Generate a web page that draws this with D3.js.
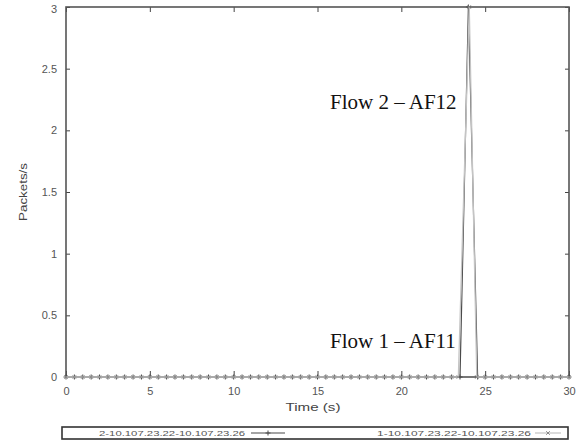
<!DOCTYPE html>
<html>
<head>
<meta charset="utf-8">
<script src="https://cdn.jsdelivr.net/npm/d3@7"></script>
<style>
  body { margin: 0; background: #fff; }
  svg { display: block; }
</style>
</head>
<body>
<div id="chart"></div>
<script>
// flow 2 (dark, + markers) - sampled every 0.5 s
const timesFlow2 = [0,0.5,1,1.5,2,2.5,3,3.5,4,4.5,5,5.5,6,6.5,7,7.5,8,8.5,9,9.5,10,10.5,11,11.5,12,12.5,13,13.5,14,14.5,15,15.5,16,16.5,17,17.5,18,18.5,19,19.5,20,20.5,21,21.5,22,22.5,23,23.5,24,24.55,25,25.5,26,26.5,27,27.5,28,28.5,29,29.5,30]
const valuesFlow2 = [0,0,0,0,0,0,0,0,0,0,0,0,0,0,0,0,0,0,0,0,0,0,0,0,0,0,0,0,0,0,0,0,0,0,0,0,0,0,0,0,0,0,0,0,0,0,0,0,3,0,0,0,0,0,0,0,0,0,0,0,0]

// flow 1 (light grey, x markers)
const timesFlow1 = [0,0.5,1,1.5,2,2.5,3,3.5,4,4.5,5,5.5,6,6.5,7,7.5,8,8.5,9,9.5,10,10.5,11,11.5,12,12.5,13,13.5,14,14.5,15,15.5,16,16.5,17,17.5,18,18.5,19,19.5,20,20.5,21,21.5,22,22.5,23,23.4,24.05,24.5,25,25.5,26,26.5,27,27.5,28,28.5,29,29.5,30]
const valuesFlow1 = [0,0,0,0,0,0,0,0,0,0,0,0,0,0,0,0,0,0,0,0,0,0,0,0,0,0,0,0,0,0,0,0,0,0,0,0,0,0,0,0,0,0,0,0,0,0,0,0,3,0,0,0,0,0,0,0,0,0,0,0,0]

const xTicks = [0, 5, 10, 15, 20, 25, 30]
const yTicks = [0, 0.5, 1, 1.5, 2, 2.5, 3]
const legendLabels = ['2-10.107.23.22-10.107.23.26', '1-10.107.23.22-10.107.23.26']

const width = 583
const height = 442
const margin = { top: 7, right: 14, bottom: 65, left: 66 }
const innerWidth = width - margin.left - margin.right
const innerHeight = height - margin.top - margin.bottom

const darkColor = '#4a4a4a'
const lightColor = '#c4c4c4'

const svg = d3.select('#chart')
    .append('svg')
        .attr('width', width)
        .attr('height', height)

const g = svg.append('g')
    .attr('transform', `translate(${margin.left}, ${margin.top})`)

const xScale = d3.scaleLinear().domain([0, 30]).range([0, innerWidth])
const yScale = d3.scaleLinear().domain([0, 3]).range([innerHeight, 0])

// axes with inward ticks, mirrored on top and right like gnuplot
const axisFont = 'Liberation Sans, Arial, sans-serif'

const styleAxis = sel => {
    sel.select('.domain').remove()
    sel.selectAll('.tick line').attr('stroke', '#444').attr('stroke-width', 1)
    sel.selectAll('.tick text')
        .attr('fill', '#555')
        .style('font-family', axisFont)
        .style('font-size', '11px')
}

const dropLabels = sel => sel.selectAll('.tick text').remove()

g.append('g')
    .attr('transform', `translate(0, ${innerHeight})`)
    .call(d3.axisBottom(xScale).tickValues(xTicks).tickSize(-6).tickPadding(10).tickFormat(d3.format('d')))
    .call(styleAxis)

g.append('g')
    .call(d3.axisTop(xScale).tickValues(xTicks).tickSize(-5))
    .call(styleAxis)
    .call(dropLabels)

const yAxisG = g.append('g')
    .call(d3.axisLeft(yScale).tickValues(yTicks).tickSize(-4).tickPadding(9).tickFormat(d => d))
    .call(styleAxis)

// keep the top label "3" inside the window
yAxisG.selectAll('.tick text').filter(d => d === 3).attr('dy', '0.5em')

g.append('g')
    .attr('transform', `translate(${innerWidth}, 0)`)
    .call(d3.axisRight(yScale).tickValues(yTicks).tickSize(-4))
    .call(styleAxis)
    .call(dropLabels)

// plot border
g.append('rect')
    .attr('width', innerWidth)
    .attr('height', innerHeight)
    .attr('fill', 'none')
    .attr('stroke', '#555')
    .attr('stroke-width', 1.6)

const flow2 = timesFlow2.map((t, i) => ({ t: t, v: valuesFlow2[i] }))
const flow1 = timesFlow1.map((t, i) => ({ t: t, v: valuesFlow1[i] }))

const line = d3.line()
    .x(d => xScale(d.t))
    .y(d => yScale(d.v))

const plusPath = s => `M${-s},0H${s}M0,${-s}V${s}`
const crossPath = s => `M${-s},${-s}L${s},${s}M${-s},${s}L${s},${-s}`

// flow 2 first, flow 1 drawn over it
g.append('path')
    .datum(flow2)
    .attr('d', line)
    .attr('fill', 'none')
    .attr('stroke', darkColor)
    .attr('stroke-width', 1.2)

g.selectAll('.pt2')
    .data(flow2)
    .enter()
    .append('path')
        .attr('class', 'pt2')
        .attr('transform', d => `translate(${xScale(d.t)}, ${yScale(d.v)})`)
        .attr('d', plusPath(2.5))
        .attr('stroke', darkColor)
        .attr('stroke-width', 1)

g.append('path')
    .datum(flow1)
    .attr('d', line)
    .attr('fill', 'none')
    .attr('stroke', lightColor)
    .attr('stroke-width', 1.3)

g.selectAll('.pt1')
    .data(flow1)
    .enter()
    .append('path')
        .attr('class', 'pt1')
        .attr('transform', d => `translate(${xScale(d.t)}, ${yScale(d.v)})`)
        .attr('d', crossPath(1.8))
        .attr('stroke', '#888')
        .attr('stroke-width', 0.9)

// the original's small texts are stretched wide, so scale them to the measured width
const stretchText = (parent, str, cx, cy, targetWidth, fontSize, rotate) => {
    const holder = parent.append('g')
    const t = holder.append('text')
        .attr('text-anchor', 'middle')
        .attr('dy', '0.35em')
        .style('font-family', axisFont)
        .style('font-size', fontSize + 'px')
        .attr('fill', '#444')
        .text(str)
    const natural = t.node().getComputedTextLength()
    const sx = targetWidth / natural
    holder.attr('transform', `translate(${cx}, ${cy}) rotate(${rotate || 0}) scale(${sx}, 1)`)
    return t
}

stretchText(svg, 'Packets/s', 23, 192, 58, 10, -90)
stretchText(svg, 'Time (s)', 313, 407, 55, 11)

// flow annotations
const noteFont = 'Liberation Serif, Times New Roman, serif'
svg.append('text')
    .attr('x', 330)
    .attr('y', 109)
    .style('font-family', noteFont)
    .style('font-size', '21px')
    .attr('fill', '#111')
    .text('Flow 2 \u2013 AF12')

svg.append('text')
    .attr('x', 330)
    .attr('y', 348)
    .style('font-family', noteFont)
    .style('font-size', '21px')
    .attr('fill', '#111')
    .text('Flow 1 \u2013 AF11')

// legend box under the chart
const legend = svg.append('g')
legend.append('rect')
    .attr('x', 62)
    .attr('y', 427)
    .attr('width', 506)
    .attr('height', 12)
    .attr('fill', '#fff')
    .attr('stroke', '#333')
    .attr('stroke-width', 1.6)

const legendItems = [
    { label: legendLabels[0], textStart: 99, textLen: 146, x1: 251, x2: 285, color: darkColor, marker: plusPath(2.5), mColor: darkColor },
    { label: legendLabels[1], textStart: 377, textLen: 154, x1: 535, x2: 561, color: lightColor, marker: crossPath(1.8), mColor: '#888' }
]

legendItems.forEach(item => {
    stretchText(legend, item.label, item.textStart + item.textLen / 2, 433, item.textLen, 8)
        .attr('fill', '#555')
    legend.append('line')
        .attr('x1', item.x1).attr('x2', item.x2)
        .attr('y1', 433).attr('y2', 433)
        .attr('stroke', item.color)
        .attr('stroke-width', 1.2)
    legend.append('path')
        .attr('transform', `translate(${(item.x1 + item.x2) / 2}, 433)`)
        .attr('d', item.marker)
        .attr('stroke', item.mColor)
        .attr('stroke-width', 1)
})
</script>
</body>
</html>
